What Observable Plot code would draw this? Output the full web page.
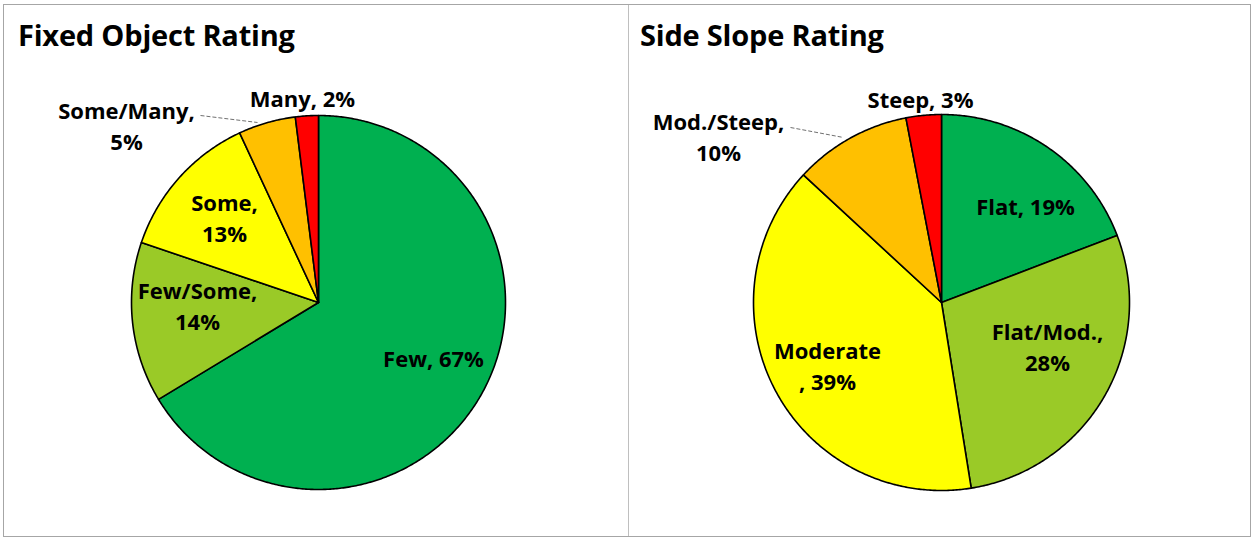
<!DOCTYPE html>
<html><head><meta charset="utf-8">
<script src="https://cdn.jsdelivr.net/npm/d3@7"></script>
<script src="https://cdn.jsdelivr.net/npm/@observablehq/plot@0.6"></script>
<style>
body{margin:0;background:#fff;font-family:"Open Sans",sans-serif;}
#frame{position:absolute;left:3px;top:4px;width:1246px;height:531px;border:1px solid #a6a6a6;background:#fff;}
.panel{position:absolute;top:0;height:531px;}
.title{position:absolute;top:10px;font-size:29px;font-weight:700;color:#000;white-space:nowrap;line-height:normal;font-family:"Open Sans",sans-serif;letter-spacing:-0.2px;}
.chart{position:absolute;top:56px;left:0;}
#divider{position:absolute;left:624px;top:0;width:1px;height:531px;background:#bfbfbf;}
</style></head><body>
<div id="frame">
  <div class="panel" id="p1" style="left:0;width:624px"><div class="title" style="left:14px">Fixed Object Rating</div><div class="chart"></div></div>
  <div id="divider"></div>
  <div class="panel" id="p2" style="left:626px;width:620px"><div class="title" style="left:10px">Side Slope Rating</div><div class="chart"></div></div>
</div>
<script>
// ---- data ----
const fixedCategories = ["Few", "Few/Some", "Some", "Some/Many", "Many"];
const fixedValues = [67, 14, 13, 5, 2];
const slopeCategories = ["Flat", "Flat/Mod.", "Moderate", "Mod./Steep", "Steep"];
const slopeValues = [19, 28, 39, 10, 3];
const sliceColors = ["#00B050", "#9ACA27", "#FFFF00", "#FFC000", "#FF0000"];

// ---- label layout (text wrapping, offsets from pie centre in px) ----
const fixedWrap = ["inline", "wrap", "wrap", "wrap", "inline"];
const fixedLabelOffsets = [[115, 54], [-121, 2], [-94, -86], [-192, -178], [-16, -206]];
const fixedLeader = {x1: -118, y1: -187, x2: -61, y2: -180};
const slopeWrap = ["inline", "wrap", "wrapComma", "wrap", "inline"];
const slopeLabelOffsets = [[84, -98], [106, 43], [-114, 62], [-223, -167], [-21, -205]];
const slopeLeader = {x1: -151, y1: -175, x2: -98, y2: -165};

function fmt(label, value, mode) {
  if (mode === "wrap") return `${label},\n${value}%`;
  if (mode === "wrapComma") return `${label}\n, ${value}%`;
  return `${label}, ${value}%`;
}

function drawPie(sel, categories, values, wrap, offsets, leader, width, cx, cy, height, R) {
  const arcs = d3.pie().sort(null).value(d => d)(values);
  const slices = arcs.map((a, i) => {
    const n = Math.max(2, Math.ceil((a.endAngle - a.startAngle) / (Math.PI / 360)));
    const pts = [[0, 0]];
    for (let k = 0; k <= n; k++) {
      const t = a.startAngle + (a.endAngle - a.startAngle) * k / n;
      pts.push([R * Math.sin(t), -R * Math.cos(t)]);
    }
    pts.push([0, 0]);
    return {pts, color: sliceColors[i]};
  });
  const circle = d3.range(0, 361).map(d => [R * Math.sin(d * Math.PI / 180), -R * Math.cos(d * Math.PI / 180) + 3]);
  const labels = categories.map((c, i) => ({x: offsets[i][0], y: offsets[i][1], text: fmt(c, values[i], wrap[i])}));
  const marks = [
    Plot.line(circle, {x: d => d[0], y: d => d[1], fill: "#000", fillOpacity: 0.5, stroke: "none", ariaLabel: "shadow"}),
    ...slices.map(s => Plot.line(s.pts, {x: d => d[0], y: d => d[1], fill: s.color, stroke: "#000", strokeWidth: 1.6, strokeLinejoin: "round"})),
    Plot.link([leader], {x1: "x1", y1: "y1", x2: "x2", y2: "y2", stroke: "#707070", strokeWidth: 1, strokeDasharray: "4,2"}),
    Plot.text(labels, {x: "x", y: "y", text: "text", fontSize: 22, fontWeight: "bold", lineHeight: 1.42, fill: "#000", fontFamily: "Open Sans"})
  ];
  const svg = Plot.plot({
    width, height, margin: 0,
    style: {background: "transparent", overflow: "visible"},
    x: {domain: [-cx, width - cx], range: [0, width], axis: null},
    y: {domain: [-cy, height - cy], range: [0, height], axis: null},
    marks
  });
  const ns = "http://www.w3.org/2000/svg";
  const defs = document.createElementNS(ns, "defs");
  const f = document.createElementNS(ns, "filter");
  const fid = "blur" + Math.random().toString(36).slice(2);
  f.setAttribute("id", fid); f.setAttribute("x", "-20%"); f.setAttribute("y", "-20%"); f.setAttribute("width", "140%"); f.setAttribute("height", "140%");
  const g = document.createElementNS(ns, "feGaussianBlur");
  g.setAttribute("stdDeviation", "2.5");
  f.appendChild(g); defs.appendChild(f); svg.insertBefore(defs, svg.firstChild);
  const sh = svg.querySelector('g[aria-label="shadow"]');
  if (sh) sh.setAttribute("filter", `url(#${fid})`);
  document.querySelector(sel).appendChild(svg);
}

drawPie("#p1 .chart", fixedCategories, fixedValues, fixedWrap, fixedLabelOffsets, fixedLeader, 624, 314, 241, 475, 187);
drawPie("#p2 .chart", slopeCategories, slopeValues, slopeWrap, slopeLabelOffsets, slopeLeader, 620, 311, 241, 475, 188);
</script>
</body></html>
